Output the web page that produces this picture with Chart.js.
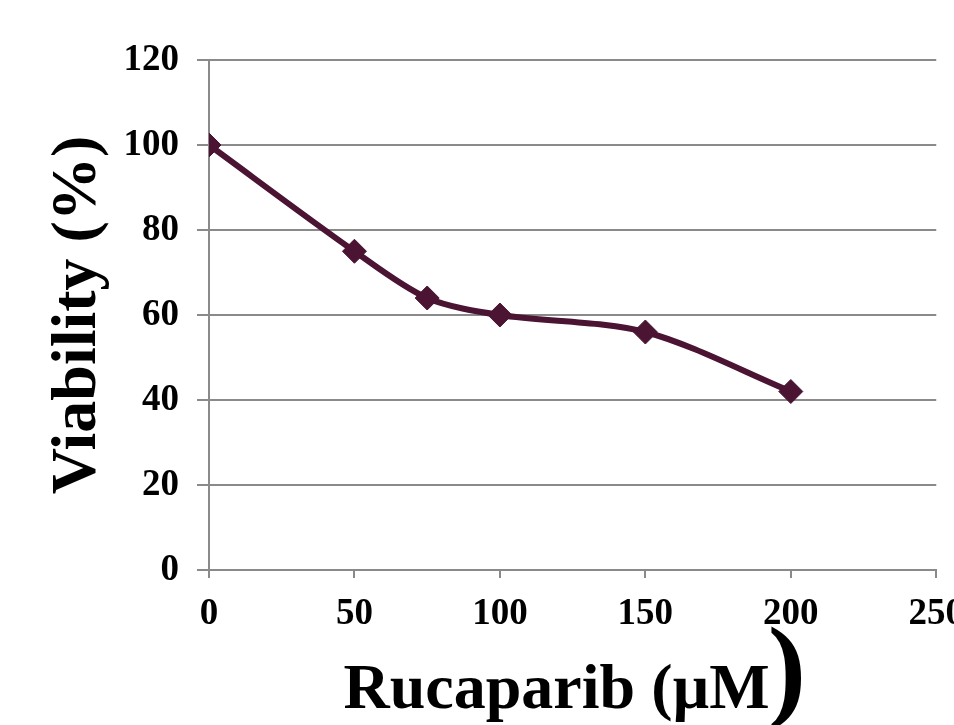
<!DOCTYPE html>
<html>
<head>
<meta charset="utf-8">
<script src="https://cdn.jsdelivr.net/npm/chart.js@4/dist/chart.umd.min.js"></script>
<style>
  html, body { margin: 0; padding: 0; background: #fff; overflow: hidden; }
</style>
</head>
<body>
<canvas id="viab" width="978" height="725"></canvas>
<script>
// Rucaparib dose (µM) vs viability (%)
const doses = [0, 50, 75, 100, 150, 200];
const viability = [100, 75, 64, 60, 56, 42];
const xTicks = [0, 50, 100, 150, 200, 250];
const yTicks = [0, 20, 40, 60, 80, 100, 120];

const lineColor = '#4a1432';
const gridColor = '#8a8a8a';
const serif = "'Liberation Serif', 'Times New Roman', serif";
const xTitle = 'Rucaparib (µM';

// the closing bracket in the original is set much larger than the rest of the title
const bigParen = {
  id: 'bigParen',
  afterDraw(chart) {
    const c = chart.ctx;
    const area = chart.chartArea;
    const t = chart.scales.x.options.title;
    c.save();
    c.font = 'bold ' + t.font.size + 'px ' + serif;
    const wFull = c.measureText(t.text).width;
    const wText = c.measureText(xTitle).width;
    const end = (area.left + area.right) / 2 - wFull / 2 + wText;
    c.font = 'bold 115px ' + serif;
    c.fillStyle = '#000';
    c.textBaseline = 'alphabetic';
    c.fillText(')', end - 2, 706);
    c.restore();
  }
};

new Chart(document.getElementById('viab'), {
  type: 'line',
  data: {
    labels: doses,
    datasets: [{
      label: 'Viability',
      data: doses.map((d, i) => ({ x: d, y: viability[i] })),
      borderColor: lineColor,
      backgroundColor: lineColor,
      borderWidth: 6,
      tension: 0.3,
      pointStyle: 'rectRot',
      pointRadius: 12,
      pointBorderWidth: 1,
      pointBackgroundColor: lineColor,
      pointBorderColor: lineColor
    }]
  },
  plugins: [bigParen],
  options: {
    responsive: false,
    animation: false,
    layout: { padding: { top: 60, left: 0, right: 0, bottom: 0 } },
    plugins: {
      legend: { display: false },
      tooltip: { enabled: false }
    },
    scales: {
      x: {
        type: 'linear',
        min: 0,
        max: 250,
        afterBuildTicks: (s) => { s.ticks = xTicks.map(v => ({ value: v })); },
        afterFit: (s) => { s.height = 155; },
        grid: {
          drawOnChartArea: false,
          color: gridColor,
          lineWidth: 2,
          tickLength: 8
        },
        border: { color: gridColor, width: 2 },
        ticks: {
          color: '#000',
          padding: 14,
          maxRotation: 0,
          font: { family: serif, size: 37, weight: 'bold' }
        },
        title: {
          display: true,
          text: xTitle + '\u2002',
          color: '#000',
          padding: { top: 0, bottom: 2 },
          font: { family: serif, size: 64, weight: 'bold', lineHeight: 1 }
        }
      },
      y: {
        min: 0,
        max: 120,
        afterBuildTicks: (s) => { s.ticks = yTicks.map(v => ({ value: v })); },
        afterFit: (s) => { s.width = 209; },
        grid: {
          color: gridColor,
          lineWidth: 2,
          tickLength: 12
        },
        border: { color: gridColor, width: 2 },
        ticks: {
          color: '#000',
          padding: 18,
          font: { family: serif, size: 37, weight: 'bold' }
        },
        title: {
          display: true,
          text: 'Viability (%)',
          color: '#000',
          padding: { top: 40, bottom: 0 },
          font: { family: serif, size: 64, weight: 'bold', lineHeight: 1.2 }
        }
      }
    }
  }
});
</script>
</body>
</html>
